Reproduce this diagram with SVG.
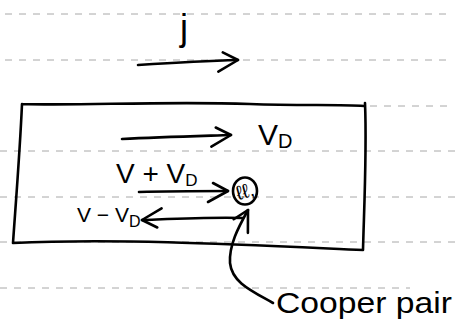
<svg xmlns="http://www.w3.org/2000/svg" width="457" height="329" viewBox="0 0 457 329">
<defs>
<style>
.rule{stroke:#a8a8a8;stroke-width:1;stroke-dasharray:7 7;fill:none}
.ink{stroke:#000;stroke-width:2.6;fill:none;stroke-linecap:round;stroke-linejoin:round}
.t{font-family:"Liberation Sans","DejaVu Sans",sans-serif;fill:#000}
</style>
<marker id="head" markerUnits="userSpaceOnUse" markerWidth="30" markerHeight="30" refX="0" refY="0" viewBox="-22 -15 26 30" orient="auto" overflow="visible">
<path d="M-15,-8 L0,0 L-20,11" fill="none" stroke="#000" stroke-width="2.6" stroke-linecap="round" stroke-linejoin="round"/>
</marker>
</defs>
<rect width="457" height="329" fill="#fff"/>
<g id="paper-rules">
<line class="rule" x1="5" y1="14" x2="452" y2="14"/>
<line class="rule" x1="5" y1="60" x2="452" y2="60"/>
<line class="rule" x1="370" y1="106" x2="452" y2="106"/>
<line class="rule" x1="0" y1="151" x2="457" y2="151"/>
<line class="rule" x1="0" y1="197" x2="457" y2="197"/>
<line class="rule" x1="0" y1="242" x2="457" y2="242"/>
<line class="rule" x1="0" y1="288" x2="410" y2="288"/>
</g>
<g id="current-label">
<text class="t" x="180" y="40" font-size="36">j</text>
</g>
<g id="superconductor">
<path class="ink" d="M22,104 C80,106 160,101 250,104 C300,106 340,104 364,106 M22,104 C20,150 16,200 13,243 M365,103 C367,150 364,210 363,250 M13,243 C120,238 250,245 363,250"/>
</g>
<g id="vd-label">
<text class="t" x="258" y="145" font-size="30">V<tspan font-size="20" dy="3">D</tspan></text>
</g>
<g id="vplus-label">
<text class="t" x="116" y="183" font-size="28">V + V<tspan font-size="17" dy="3">D</tspan></text>
</g>
<g id="vminus-label">
<text class="t" x="77" y="222" font-size="21">V − V<tspan font-size="16" dy="5">D</tspan></text>
</g>
<g id="cooper-pair">
<ellipse class="ink" cx="245" cy="191" rx="12" ry="13.5"/>
<text class="t" x="245" y="198" font-size="20" text-anchor="middle" transform="rotate(-15 245 191)">ℓℓ,</text>
</g>
<g id="cooper-label">
<text class="t" x="276" y="313" font-size="29" textLength="176" lengthAdjust="spacingAndGlyphs">Cooper pair</text>
</g>
<g id="connectors">
<path class="ink" d="M138,65 C170,63 205,61 238,60" marker-end="url(#head)"/>
<path class="ink" d="M122,139 C160,137 200,136 231,135" marker-end="url(#head)"/>
<path class="ink" d="M139,192 C170,191 200,191 228,191" marker-end="url(#head)"/>
<path class="ink" d="M243,218 C210,217 170,219 142,220" marker-end="url(#head)"/>
<path class="ink" d="M273,303 C250,290 232,282 230,263 C229,245 238,228 248,210" marker-end="url(#head)"/>
</g>
</svg>
